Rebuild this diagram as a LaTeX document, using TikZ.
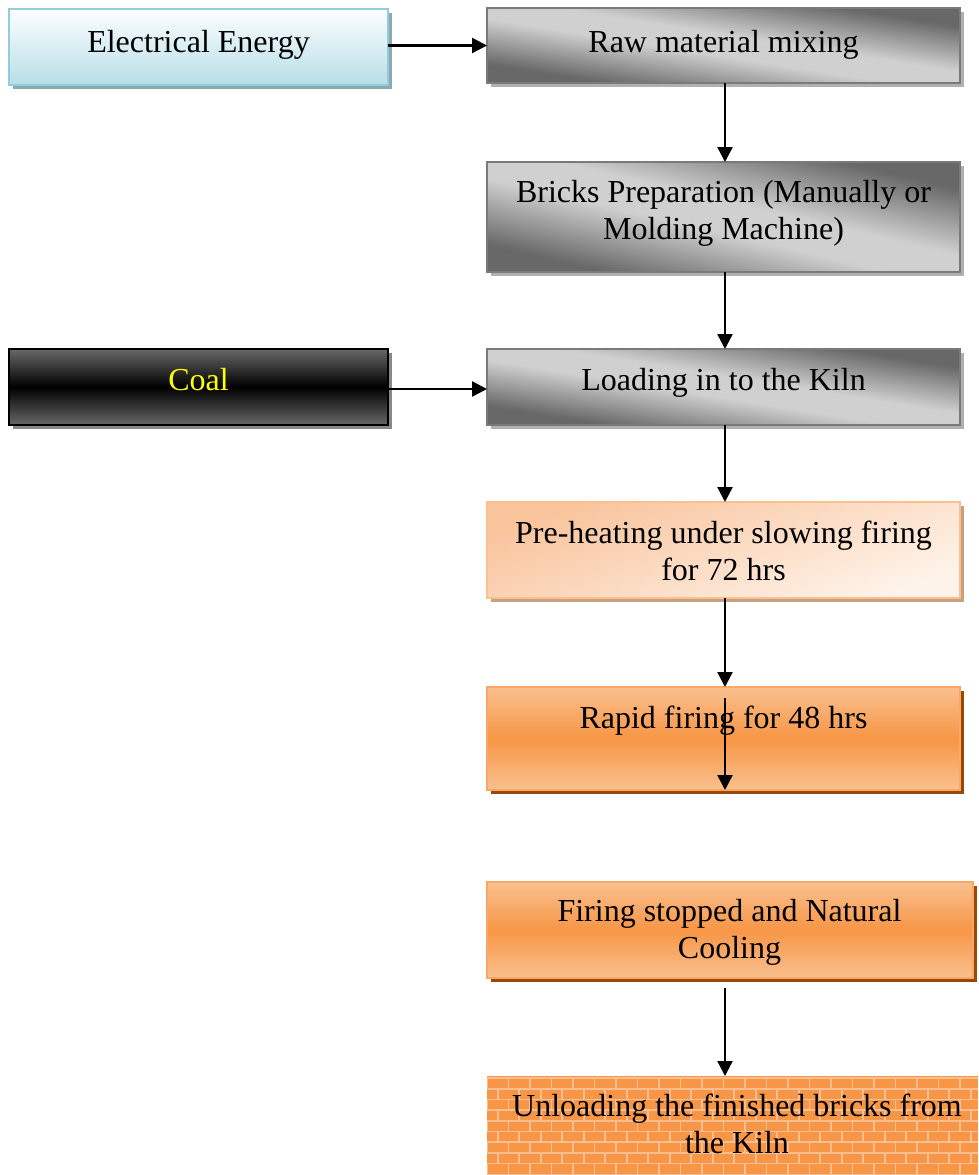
\documentclass[tikz,border=0pt]{standalone}
\usepackage{fontspec}
\setmainfont{Liberation Serif}
\usetikzlibrary{arrows.meta,shadows,calc}
\definecolor{elecB}{HTML}{93CDDD}
\definecolor{elecT}{HTML}{FDFEFF}
\definecolor{elecBot}{HTML}{B7DEE8}
\definecolor{elecSh}{HTML}{8EA8B0}
\definecolor{grayB}{HTML}{7A7A7A}
\definecolor{grayD}{HTML}{686868}
\definecolor{grayL}{HTML}{D0D0D0}
\definecolor{graySh}{HTML}{B0B0B0}
\definecolor{coalG}{HTML}{686868}
\definecolor{coalSh}{HTML}{888888}
\definecolor{phB}{HTML}{FAC090}
\definecolor{phD}{HTML}{F9C39B}
\definecolor{phL}{HTML}{FEF3EA}
\definecolor{phSh}{HTML}{C7A080}
\definecolor{orB}{HTML}{F9A868}
\definecolor{orM}{HTML}{F79646}
\definecolor{orL}{HTML}{FAC08F}
\definecolor{orSh}{HTML}{984807}
\definecolor{brickL}{HTML}{FBBE90}
\definecolor{coaltext}{HTML}{FFFF00}
\begin{document}
\begin{tikzpicture}[x=1pt,y=-1pt,
  box/.style={rectangle, inner sep=0pt, outer sep=0pt, line width=2pt},
  sh/.style={drop shadow={shadow xshift=4pt, shadow yshift=-4pt, fill=#1, opacity=1}},
  diagfill/.style n args={4}{path picture={
      \begin{scope}[shift={(path picture bounding box.center)}]
      \foreach \i in {0,...,87} {
        \pgfmathsetmacro\sA{-2.2+\i*0.05}
        \pgfmathsetmacro\sB{\sA+0.07}
        \pgfmathsetmacro\mixp{100*min(1,max(0,(abs(\sA+0.025)-0.3)/1.2))}
        \fill[#3!\mixp!#4] (-3*#1,{(-3-\sA)*#2}) -- (3*#1,{(3-\sA)*#2})
             -- (3*#1,{(3-\sB)*#2}) -- (-3*#1,{(-3-\sB)*#2}) -- cycle;
      }
      \end{scope}}},
  elecbox/.style={box, draw=elecB, top color=elecT, bottom color=elecBot, sh=elecSh},
  graybox/.style 2 args={box, draw=grayB, fill=grayL, sh=graySh, minimum width=#1, minimum height=#2,
      diagfill={#1/2}{#2/2}{grayD}{grayL}},
  coalbox/.style={box, draw=black, top color=coalG, bottom color=coalG, middle color=black, sh=coalSh},
  prebox/.style={box, draw=phB, shading=axis, left color=phD, right color=phL, shading angle=20, sh=phSh},
  orbox/.style={box, draw=orB, top color=orL, bottom color=orL, middle color=orM, sh=orSh},
  txt/.style={inner sep=0pt, outer sep=0pt, font=\fontsize{32}{36.5}\selectfont, align=center},
  arr/.style={line width=2.4pt, -{Triangle[length=15pt,width=15pt]}},
  brick/.style={draw=brickL, line width=1.6pt}
]
\useasboundingbox (0,0) rectangle (978,1175);

% boxes
\node[elecbox, minimum width=379pt, minimum height=76pt] (elec) at (198.5,47) {};
\node[graybox={473}{75}] (raw) at (723.5,45.5) {};
\node[graybox={473}{110}] (bricks) at (723.5,217) {};
\node[coalbox, minimum width=379pt, minimum height=76pt] (coal) at (198.5,387) {};
\node[graybox={473}{76}] (loading) at (723.5,387) {};
\node[prebox, minimum width=473pt, minimum height=96pt] (preheat) at (723.5,550) {};
\node[orbox, minimum width=473pt, minimum height=103pt] (rapid) at (723.5,738.5) {};
\node[orbox, minimum width=486pt, minimum height=96pt] (firing) at (730,930) {};
\node[box, fill=orM, minimum width=491pt, minimum height=100pt] (unload) at (732.5,1126) {};

% brick pattern
\begin{scope}
\clip (unload.south west) rectangle (unload.north east);
\foreach \r in {0,...,10} {
  \pgfmathsetmacro\yy{1078+\r*10.7}
  \pgfmathsetmacro\off{mod(\r,2)*10.75}
  \draw[brick] (480,\yy) -- (990,\yy);
  \foreach \c in {0,...,24} {
    \draw[brick] (487+\off+\c*21.5,\yy) -- ++(0,10.7);
  }
}
\end{scope}

% texts (base anchor = baseline of the last line)
\node[txt, anchor=base] (telec) at (198.5,52) {Electrical Energy};
\node[txt, anchor=base] (traw) at (723.5,52) {Raw material mixing};
\node[txt, anchor=base] (tbricks) at (723.5,239) {Bricks Preparation (Manually or\\Molding Machine)};
\node[txt, anchor=base, text=coaltext] (tcoal) at (198.5,390) {Coal};
\node[txt, anchor=base] (tload) at (723.5,390) {Loading in to the Kiln};
\node[txt, anchor=base] (tpre) at (723.5,580) {Pre-heating under slowing firing\\for 72 hrs};
\node[txt, anchor=base] (trapid) at (723.5,728) {Rapid firing for 48 hrs};
\node[txt, anchor=base] (tfire) at (729.5,958) {Firing stopped and Natural\\Cooling};
\node[txt, anchor=base] (tunload) at (737,1153) {Unloading the finished bricks from\\the Kiln};

% connectors
\coordinate (rin) at (725,698);
\draw[arr] (elec.east |- raw.west) -- (raw.west);
\draw[arr] ([xshift=1.5pt]raw.south) -- ([xshift=1.5pt]bricks.north);
\draw[arr] ([xshift=1.5pt]bricks.south) -- ([xshift=1.5pt]loading.north);
\draw[arr] ([yshift=-2pt]coal.east) -- ([yshift=-2pt]loading.west);
\draw[arr] ([xshift=1.5pt]loading.south) -- ([xshift=1.5pt]preheat.north);
\draw[arr] ([xshift=1.5pt]preheat.south) -- ([xshift=1.5pt]rapid.north);
\draw[arr] (rin) -- (rapid.south -| rin);
\draw[arr, shorten <=10pt] (firing.south -| rin) -- (unload.north -| rin);
\end{tikzpicture}
\end{document}
